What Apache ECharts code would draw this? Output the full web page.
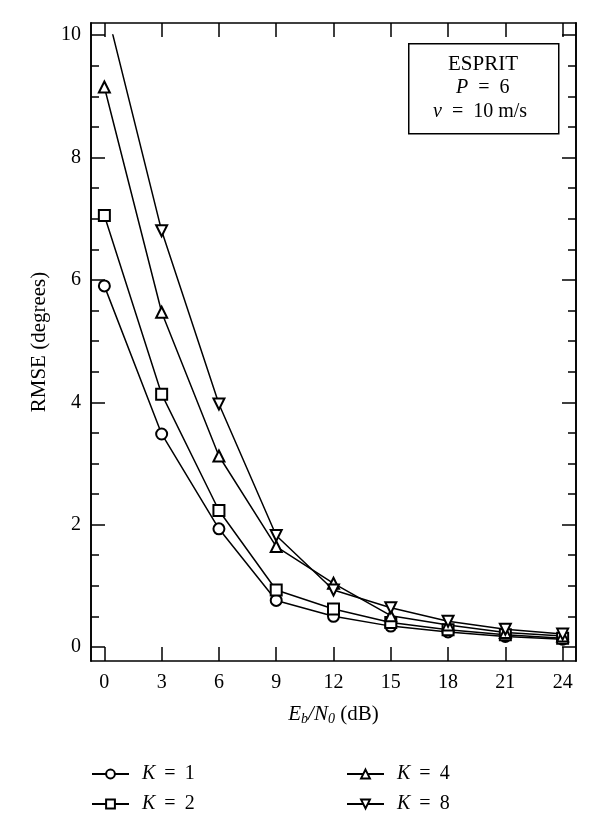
<!DOCTYPE html>
<html><head><meta charset="utf-8">
<script src="https://cdn.jsdelivr.net/npm/echarts@6/dist/echarts.min.js"></script>
<style>html,body{margin:0;padding:0;background:#fff}#c{width:600px;height:823px}</style>
</head><body><div id="c"></div>
<script>
const snr = [0, 3, 6, 9, 12, 15, 18, 21, 24];
const k1 = [5.9, 3.48, 1.93, 0.76, 0.50, 0.34, 0.245, 0.17, 0.125];
const k2 = [7.05, 4.13, 2.23, 0.93, 0.62, 0.40, 0.28, 0.20, 0.14];
const k4 = [9.15, 5.47, 3.12, 1.64, 1.04, 0.51, 0.36, 0.235, 0.18];
const k8 = [10.56, 6.8, 3.97, 1.82, 0.93, 0.64, 0.42, 0.29, 0.21];
const xTicks = [0, 3, 6, 9, 12, 15, 18, 21, 24];
const yMajor = [0, 2, 4, 6, 8, 10];
const yMinor = [0.5,1,1.5,2.5,3,3.5,4.5,5,5.5,6.5,7,7.5,8.5,9,9.5];

const FONT = '"Liberation Serif", "DejaVu Serif", serif';
const X_MIN = -0.7, X_MAX = 24.7, Y_MIN = -0.23, Y_MAX = 10.2;
const pair = a => snr.map((x, i) => [x, a[i]]);

const chart = echarts.init(document.getElementById('c'), null, {renderer: 'canvas'});
const axLine = {show: true, onZero: false, lineStyle: {color: '#000', width: 1.6}};
const tickStyle = {color: '#000', width: 1.5};

function yAx(side, vals, len, labels, extra) {
  return Object.assign({
    type: 'value', gridIndex: 0, position: side, min: Y_MIN, max: Y_MAX,
    axisLine: axLine, splitLine: {show: false},
    axisTick: {show: true, inside: true, length: len, lineStyle: tickStyle, customValues: vals},
    axisLabel: labels ? {show: true, customValues: vals, fontFamily: FONT, fontSize: 20, color: '#000', margin: 10} : {show: false}
  }, extra || {});
}

const mk = (name, data, symbol, rot) => ({
  name: name, type: 'line', xAxisIndex: 2, yAxisIndex: 4, data: pair(data),
  symbol: symbol, symbolSize: 11, symbolRotate: rot || 0, clip: true,
  lineStyle: {color: '#000', width: 1.5},
  itemStyle: {color: '#000', borderColor: '#000', borderWidth: 1.3},
  animation: false
});

const rich = {i: {fontStyle: 'italic', fontFamily: FONT, fontSize: 20, color: '#000'},
              n: {fontFamily: FONT, fontSize: 20, color: '#000'}};
const legFmt = n => '{i|K}{n| \u2009= \u2009' + n.split('= ')[1] + '}';
const legBase = {orient: 'vertical', itemWidth: 37, itemHeight: 11, itemGap: 10, height: 70,
  textStyle: {rich: rich, padding: [0, 0, 0, 8]}, formatter: legFmt, selectedMode: false};

chart.setOption({
  animation: false,
  backgroundColor: '#fff',
  grid: [
    {left: 91, right: 24, top: 23, bottom: 162},
    {left: 91, right: 24, top: 35, bottom: 162}
  ],
  xAxis: [
    {type: 'value', gridIndex: 0, position: 'bottom', min: X_MIN, max: X_MAX,
     axisLine: axLine, splitLine: {show: false},
     axisTick: {show: true, inside: true, length: 14, lineStyle: tickStyle, customValues: xTicks},
     axisLabel: {show: true, customValues: xTicks, fontFamily: FONT, fontSize: 20, color: '#000', margin: 12},
     name: '{e|E}{s|b}{e|/N}{s|0}{r| (dB)}', nameLocation: 'middle', nameGap: 42,
     nameTextStyle: {rich: {
       e: {fontStyle: 'italic', fontFamily: FONT, fontSize: 21, color: '#000'},
       s: {fontStyle: 'italic', fontFamily: FONT, fontSize: 14, color: '#000', verticalAlign: 'bottom', padding: [9, 0, 0, 0]},
       r: {fontFamily: FONT, fontSize: 21, color: '#000'}}}},
    {type: 'value', gridIndex: 0, position: 'top', min: X_MIN, max: X_MAX,
     axisLine: axLine, splitLine: {show: false},
     axisTick: {show: true, inside: true, length: 14, lineStyle: tickStyle, customValues: xTicks},
     axisLabel: {show: false}},
    {type: 'value', gridIndex: 1, min: X_MIN, max: X_MAX, show: false}
  ],
  yAxis: [
    yAx('left', yMajor, 14, true, {name: 'RMSE (degrees)', nameLocation: 'middle', nameGap: 41,
      nameTextStyle: {fontFamily: FONT, fontSize: 21, color: '#000'}}),
    yAx('left', yMinor, 8, false),
    yAx('right', yMajor, 14, false),
    yAx('right', yMinor, 8, false),
    {type: 'value', gridIndex: 1, min: Y_MIN, max: 10, show: false}
  ],
  legend: [
    Object.assign({}, legBase, {data: ['K = 1', 'K = 2'], left: 86, top: 759}),
    Object.assign({}, legBase, {data: ['K = 4', 'K = 8'], left: 341, top: 759})
  ],
  series: [
    mk('K = 1', k1, 'emptyCircle'),
    mk('K = 2', k2, 'emptyRect'),
    mk('K = 4', k4, 'emptyTriangle'),
    mk('K = 8', k8, 'emptyTriangle', 180)
  ],
  graphic: [
    {type: 'rect', left: 408, top: 43, shape: {width: 150, height: 90},
     style: {fill: '#fff', stroke: '#000', lineWidth: 1.5}, z: 100},
    {type: 'text', left: 448, top: 54, z: 101,
     style: {text: 'ESPRIT', font: '21px "Liberation Serif"', fill: '#000'}},
    {type: 'text', top: 78, left: 456, z: 101,
     style: {text: '{i|P}{n|  =  6}', rich: rich}},
    {type: 'text', top: 102, left: 433, z: 101,
     style: {text: '{i|ν}{n|  =  10 m/s}', rich: rich}}
  ]
});
</script></body></html>
